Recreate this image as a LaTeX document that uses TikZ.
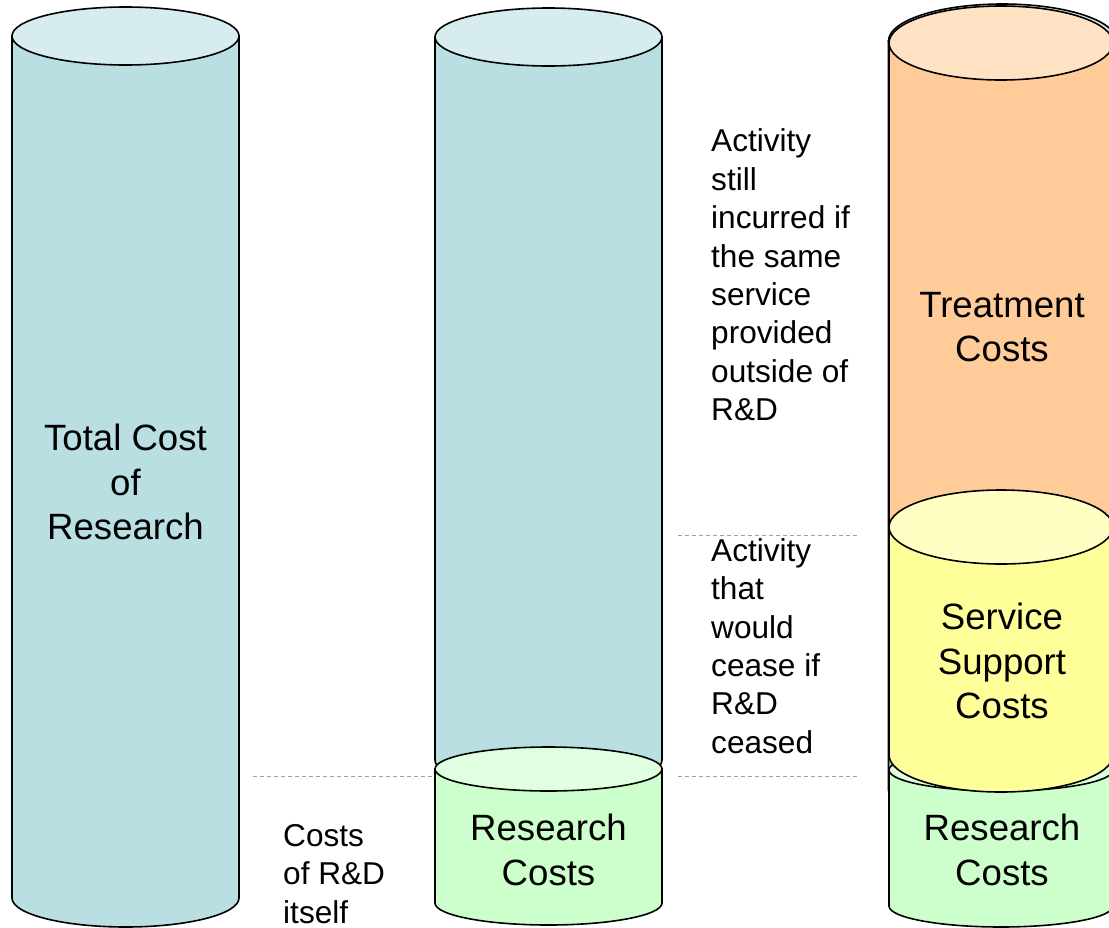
\documentclass[tikz,border=0pt]{standalone}
\usepackage{fontspec}
\setmainfont{Liberation Sans}
\definecolor{blueside}{HTML}{B9DFE3}
\definecolor{bluetop}{HTML}{D7ECEF}
\definecolor{greenside}{HTML}{CCFFCC}
\definecolor{greentop}{HTML}{E0FFE0}
\definecolor{orangeside}{HTML}{FFCC99}
\definecolor{orangetop}{HTML}{FFE1C4}
\definecolor{yellowside}{HTML}{FFFF99}
\definecolor{yellowtop}{HTML}{FFFFC4}
\definecolor{guidegray}{HTML}{A0A0A0}
% #1 cx, #2 rx, #3 top centre y, #4 bottom centre y, #5 ry, #6 side colour, #7 top colour
\newcommand\drawcan[7]{%
  \filldraw[canline,fill=#6] (#1-#2,#3) -- (#1-#2,#4)
    arc[start angle=180,end angle=360,x radius=#2,y radius=#5] -- (#1+#2,#3) -- cycle;
  \filldraw[canline,fill=#7] (#1,#3) ellipse[x radius=#2,y radius=#5];
}
\begin{document}
\begin{tikzpicture}[x=1pt,y=1pt,
  canline/.style={draw=black,line width=1.6pt},
  guide/.style={draw=guidegray,line width=1pt,dash pattern=on 4pt off 3pt},
  bigtext/.style={font=\fontsize{36.6}{44.5}\selectfont,align=center,inner sep=0pt},
  sidetext/.style={font=\fontsize{31.6}{38.4}\selectfont,align=left,inner sep=0pt,anchor=west}]
\useasboundingbox (0,0) rectangle (1109,-927);
\clip (0,0) rectangle (1109,-927);

% column 1
\drawcan{125.5}{113.5}{-36}{-898}{29}{blueside}{bluetop}
% column 2
\drawcan{548.5}{113.5}{-37}{-760}{29}{blueside}{bluetop}
\drawcan{548.5}{113.5}{-769}{-903}{22}{greenside}{greentop}
% column 3
\drawcan{1002.5}{114}{-41}{-790}{37}{blueside}{bluetop}
\drawcan{1001}{112}{-770}{-906}{21}{greenside}{greentop}
\drawcan{1001}{112}{-43}{-600}{37}{orangeside}{orangetop}
\drawcan{1001}{112}{-527}{-755}{37}{yellowside}{yellowtop}

% guide lines
\coordinate (g1a) at (253,-776);
\coordinate (g1b) at (435,-776);
\coordinate (g2a) at (678,-776);
\coordinate (g2b) at (858,-776);
\coordinate (g3a) at (678,-535);
\coordinate (g3b) at (858,-535);
\draw[guide] (g1a) -- (g1b);
\draw[guide] (g2a) -- (g2b);
\draw[guide] (g3a) -- (g3b);

% labels in the cans
\node[bigtext] (total) at (125.5,-482) {Total Cost\\of\\Research};
\node[bigtext] (res2) at (548.5,-850) {Research\\Costs};
\node[bigtext] (treat) at (1002,-327) {Treatment\\Costs};
\node[bigtext] (serv) at (1002,-661) {Service\\Support\\Costs};
\node[bigtext] (res3) at (1002,-850) {Research\\Costs};

% side notes
\node[sidetext] (still) at (711,-275) {Activity\\still\\incurred if\\the same\\service\\provided\\outside of\\R\&D};
\node[sidetext] (cease) at (711,-646) {Activity\\that\\would\\cease if\\R\&D\\ceased};
\node[sidetext] (itself) at (283,-874) {Costs\\of R\&D\\itself};
\end{tikzpicture}
\end{document}
